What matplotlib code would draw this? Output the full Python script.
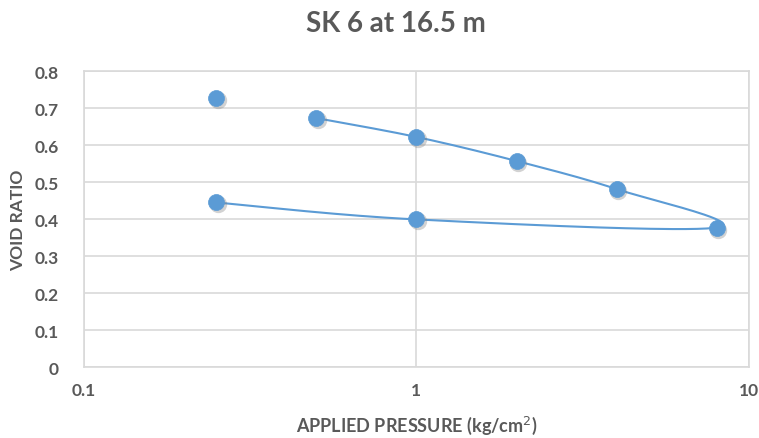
import numpy as np
import matplotlib
matplotlib.use("Agg")
import matplotlib.pyplot as plt
from matplotlib.ticker import FixedLocator, FixedFormatter, NullLocator
from matplotlib.transforms import offset_copy

# Data
lone_x = [0.25]
lone_y = [0.727]
curve_x = [0.5, 1, 2, 4, 8, 1, 0.25]
curve_y = [0.673, 0.622, 0.557, 0.481, 0.377, 0.399, 0.445]
x_ticks = [0.1, 1, 10]
x_tick_labels = ["0.1", "1", "10"]
y_ticks = [0, 0.1, 0.2, 0.3, 0.4, 0.5, 0.6, 0.7, 0.8]
y_tick_labels = ["0", "0.1", "0.2", "0.3", "0.4", "0.5", "0.6", "0.7", "0.8"]

BLUE = "#5B9BD5"
GRAY = "#595959"
GRID = "#D9D9D9"

plt.rcParams['font.family'] = ['Lato', 'DejaVu Sans']

fig = plt.figure(figsize=(7.59, 4.39), dpi=100)
ax = fig.add_axes([0.1107, 0.1617, 0.876, 0.674])

ax.set_xscale('log')
ax.set_xlim(0.1, 10)
ax.set_ylim(0, 0.8)

# smooth curve (Catmull-Rom in log-x space, scaled to display aspect)
lx = np.log10(np.array(curve_x, float))
ly = np.array(curve_y, float)
sx, sy = 332.0, 370.0
P = np.column_stack([lx * sx, ly * sy])
pts = []
n = len(P)
for i in range(n - 1):
    p0 = P[i - 1] if i > 0 else P[i]
    p1 = P[i]
    p2 = P[i + 1]
    p3 = P[i + 2] if i + 2 < n else P[i + 1]
    c1 = p1 + (p2 - p0) / 6.0
    c2 = p2 - (p3 - p1) / 6.0
    t = np.linspace(0, 1, 40)[:, None]
    seg = (1 - t) ** 3 * p1 + 3 * (1 - t) ** 2 * t * c1 + 3 * (1 - t) * t ** 2 * c2 + t ** 3 * p2
    pts.append(seg if i == 0 else seg[1:])
pts = np.vstack(pts)
cx = 10 ** (pts[:, 0] / sx)
cy = pts[:, 1] / sy

ax.plot(cx, cy, color=BLUE, lw=1.5, zorder=3)

all_x = lone_x + curve_x
all_y = lone_y + curve_y
sh = offset_copy(ax.transData, fig=fig, x=1.5, y=-2.0, units='dots')
ax.plot(all_x, all_y, 'o', ms=12.5, color='#808080', alpha=0.35, mec='none', transform=sh, zorder=4)
ax.plot(all_x, all_y, 'o', ms=11.5, color=BLUE, mec=BLUE, mew=0.5, zorder=5)

ax.xaxis.set_major_locator(FixedLocator(x_ticks))
ax.xaxis.set_major_formatter(FixedFormatter(x_tick_labels))
ax.xaxis.set_minor_locator(NullLocator())
ax.set_yticks(y_ticks)
ax.set_yticklabels(y_tick_labels)

ax.grid(True, color=GRID, lw=1.2)
ax.set_axisbelow(True)
for s in ax.spines.values():
    s.set_color(GRID)
    s.set_linewidth(1.2)
ax.tick_params(length=0, labelsize=12.5, labelcolor=GRAY)
ax.tick_params(axis='x', pad=11)
ax.tick_params(axis='y', pad=18)
for lab in ax.get_xticklabels() + ax.get_yticklabels():
    lab.set_fontweight('bold')

ax.set_xlabel("APPLIED PRESSURE (kg/cm$^{2}$)", fontsize=13, fontweight='bold', color=GRAY, labelpad=11)
ax.set_ylabel("VOID RATIO", fontsize=12.5, fontweight='bold', color=GRAY, labelpad=6)
fig.text(0.522, 0.945, "SK 6 at 16.5 m", ha='center', va='center', fontsize=20, fontweight='bold', color=GRAY)

fig.savefig("out.png", dpi=100)
